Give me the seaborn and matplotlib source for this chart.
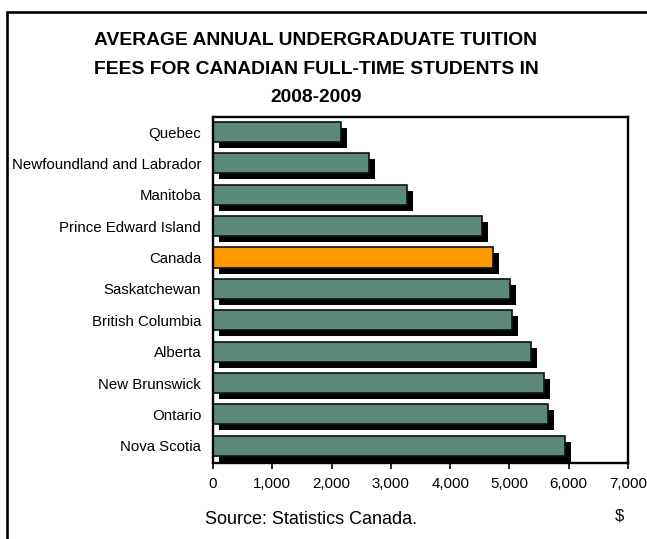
import matplotlib
matplotlib.use("Agg")
import matplotlib.pyplot as plt
import matplotlib.patheffects as pe
from matplotlib.patches import Rectangle
from matplotlib.ticker import FuncFormatter
import seaborn as sns
import pandas as pd

provinces = ["Quebec", "Newfoundland and Labrador", "Manitoba", "Prince Edward Island",
             "Canada", "Saskatchewan", "British Columbia", "Alberta", "New Brunswick",
             "Ontario", "Nova Scotia"]
fees = [2167, 2632, 3276, 4530, 4724, 5015, 5040, 5361, 5590, 5643, 5932]
x_ticks = [0, 1000, 2000, 3000, 4000, 5000, 6000, 7000]
title_lines = ["AVERAGE ANNUAL UNDERGRADUATE TUITION",
               "FEES FOR CANADIAN FULL-TIME STUDENTS IN",
               "2008-2009"]
source_text = "Source: Statistics Canada."
unit_text = "$"

GREEN = "#5C8A78"
ORANGE = "#FF9900"

sns.set_theme(style="white")
plt.rcParams["font.family"] = ["Liberation Sans", "DejaVu Sans"]

df = pd.DataFrame({"province": provinces, "fee": fees})
palette = {p: (ORANGE if p == "Canada" else GREEN) for p in provinces}

W, H = 647, 539
fig = plt.figure(figsize=(W / 100, H / 100), dpi=100)
ax = fig.add_axes([213 / W, 1 - 463 / H, (628 - 213) / W, (463 - 117) / H])

sns.barplot(data=df, x="fee", y="province", hue="province", palette=palette,
            order=provinces, hue_order=provinces, legend=False, width=0.64,
            saturation=1, ax=ax, edgecolor="#111111", linewidth=1.2)

for p in ax.patches:
    p.set_path_effects([pe.SimplePatchShadow(offset=(4.3, -4.3), shadow_rgbFace="black",
                                             alpha=1.0), pe.Normal()])

ax.set_xlim(0, 7000)
ax.set_ylim(10.55, -0.48)
ax.set_xticks(x_ticks)
ax.xaxis.set_major_formatter(FuncFormatter(lambda v, pos: f"{int(v):,}"))
ax.set_xlabel("")
ax.set_ylabel("")

for s in ax.spines.values():
    s.set_visible(True)
    s.set_color("black")
    s.set_linewidth(1.7)

ax.tick_params(axis="x", which="major", direction="out", length=4, width=1.2,
               color="black", labelsize=10.8, pad=6, bottom=True)
ax.tick_params(axis="y", length=0, labelsize=10.8, pad=8.5)
for t in ax.get_xticklabels() + ax.get_yticklabels():
    t.set_color("black")

# titles
for yy, line in zip([40.7, 69.0, 97.0], title_lines):
    fig.text(316 / W, 1 - yy / H, line, ha="center", va="center",
             fontsize=13.9, fontweight="bold", color="black")

fig.text(311 / W, 1 - 520 / H, source_text, ha="center", va="center",
         fontsize=13, color="black")
fig.text(619 / W, 1 - 516 / H, unit_text, ha="center", va="center",
         fontsize=12, color="black")

# outer frame (extends past right and bottom edges)
frame = Rectangle((7.3 / W, -0.1), 1.2, (539 - 12.3) / H + 0.1,
                  transform=fig.transFigure, fill=False, edgecolor="black",
                  linewidth=1.9, zorder=0)
fig.add_artist(frame)

fig.savefig("out.png", dpi=100, facecolor="white")
